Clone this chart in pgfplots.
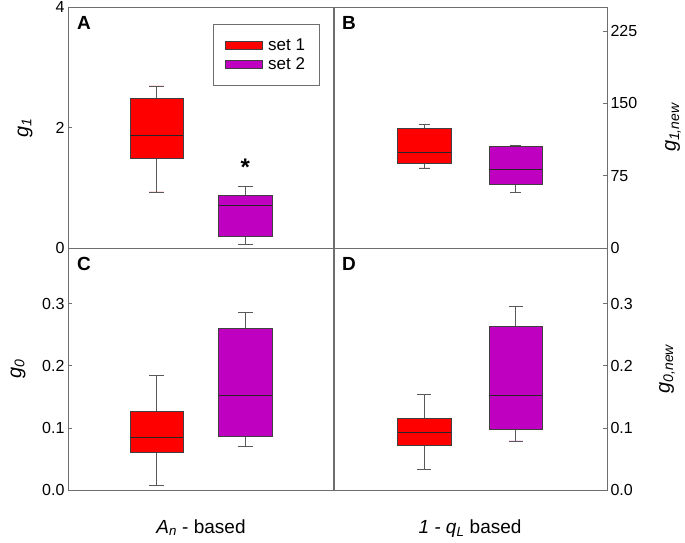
\documentclass[border=0pt]{standalone}
\usepackage{fontspec}
\setmainfont{Liberation Sans}
\usepackage{pgfplots}
\pgfplotsset{compat=1.18}
\usepgfplotslibrary{statistics}

\definecolor{setone}{RGB}{255,0,0}
\definecolor{settwo}{RGB}{192,0,192}
\definecolor{frame}{RGB}{110,110,110}

\tikzset{
  letter/.style={anchor=north west, inner sep=0pt, xshift=9pt, yshift=-9pt,
    font=\fontsize{19}{21}\selectfont\bfseries},
}

\pgfplotsset{
  panel/.style={
    scale only axis,
    xmin=0, xmax=3, ymin=0,
    xtick=\empty,
    axis line style={draw=frame, line width=0.9pt},
    tick style={draw=frame, line width=0.8pt},
    major tick length=4pt,
    tick align=inside,
    ticklabel style={font=\fontsize{16}{18}\selectfont},
    /pgf/number format/assume math mode=true,
    clip=false,
    boxplot/draw direction=y,
    /pgfplots/boxplot/every median/.style={draw=black!85, line width=1pt},
    /pgfplots/boxplot/every whisker/.style={draw=black!65, line width=0.8pt},
    /pgfplots/boxplot/every box/.style={draw=black!75, line width=0.8pt},
  },
  leftpanel/.style={ytick pos=left,
    ylabel style={at={(rel axis cs:0,0.5)}, anchor=center, font=\fontsize{20}{22}\selectfont}},
  rightpanel/.style={ytick pos=right, yticklabel pos=right,
    ylabel style={at={(rel axis cs:1,0.5)}, anchor=center, font=\fontsize{20}{22}\selectfont}},
  bottomlabel/.style={xlabel style={at={(rel axis cs:0.5,0)}, anchor=base, yshift=-43pt,
    font=\fontsize{19}{22}\selectfont}},
}

\begin{document}
\begin{tikzpicture}
\useasboundingbox (0,0) rectangle (685pt,542pt);

% A: g1, An-based
\begin{axis}[panel, leftpanel, at={(68pt,535pt)}, anchor=north west,
  width=266pt, height=241pt, ymax=4, ytick={0,2,4},
  ylabel={{\itshape g\textsubscript{1}}}, ylabel style={yshift=43pt},
  legend style={at={(rel axis cs:0.545,0.929)}, anchor=north west, draw=frame,
    line width=0.9pt, font=\fontsize{17}{19}\selectfont, inner xsep=12pt, inner ysep=12pt,
    row sep=2pt, cells={anchor=west}, /tikz/every odd column/.append style={column sep=3pt}},
  legend image code/.code={\draw[#1, line width=0.7pt] (0pt,-4pt) rectangle (37pt,4pt);}]
  \addlegendimage{fill=setone, draw=black!75}
  \addlegendentry{set 1}
  \addlegendimage{fill=settwo, draw=black!75}
  \addlegendentry{set 2}
  \addplot[fill=setone, forget plot, boxplot prepared={draw position=1,
    lower whisker=0.93, lower quartile=1.48, median=1.87, upper quartile=2.48,
    upper whisker=2.69, box extend=0.6, whisker extend=0.17}] coordinates {};
  \addplot[fill=settwo, forget plot, boxplot prepared={draw position=2,
    lower whisker=0.06, lower quartile=0.20, median=0.705, upper quartile=0.88,
    upper whisker=1.02, box extend=0.6, whisker extend=0.17}] coordinates {};
  \node[anchor=base, font=\fontsize{24}{26}\selectfont\bfseries] at (axis cs:2,1.2) {*};
  \node[letter] at (rel axis cs:0,1) {A};
\end{axis}

% B: g1,new, 1-qL based
\begin{axis}[panel, rightpanel, at={(333pt,535pt)}, anchor=north west,
  width=274pt, height=241pt, ymax=250, ytick={0,75,150,225},
  ylabel={{\itshape g\textsubscript{1,new}}}, ylabel style={yshift=-66pt}]
  \addplot[fill=setone, boxplot prepared={draw position=1,
    lower whisker=83, lower quartile=87.8, median=99, upper quartile=123.6,
    upper whisker=128, box extend=0.585, whisker extend=0.12}] coordinates {};
  \addplot[fill=settwo, boxplot prepared={draw position=2,
    lower whisker=57.6, lower quartile=65.6, median=81, upper quartile=104.9,
    upper whisker=106.6, box extend=0.585, whisker extend=0.12}] coordinates {};
  \node[letter] at (rel axis cs:0,1) {B};
\end{axis}

% C: g0, An-based
\begin{axis}[panel, leftpanel, bottomlabel, at={(68pt,294pt)}, anchor=north west,
  width=266pt, height=242pt, ymax=0.39, ytick={0,0.1,0.2,0.3},
  yticklabel style={/pgf/number format/.cd, fixed, fixed zerofill, precision=1},
  ylabel={{\itshape g\textsubscript{0}}}, ylabel style={yshift=50pt},
  xlabel={{\itshape A\textsubscript{n}} - based}]
  \addplot[fill=setone, boxplot prepared={draw position=1,
    lower whisker=0.0075, lower quartile=0.060, median=0.0845, upper quartile=0.126,
    upper whisker=0.185, box extend=0.6, whisker extend=0.17}] coordinates {};
  \addplot[fill=settwo, boxplot prepared={draw position=2,
    lower whisker=0.070, lower quartile=0.0856, median=0.152, upper quartile=0.26,
    upper whisker=0.286, box extend=0.6, whisker extend=0.17}] coordinates {};
  \node[letter] at (rel axis cs:0,1) {C};
\end{axis}

% D: g0,new, 1-qL based
\begin{axis}[panel, rightpanel, bottomlabel, at={(333pt,294pt)}, anchor=north west,
  width=274pt, height=242pt, ymax=0.39, ytick={0,0.1,0.2,0.3},
  yticklabel style={/pgf/number format/.cd, fixed, fixed zerofill, precision=1},
  ylabel={{\itshape g\textsubscript{0,new}}}, ylabel style={yshift=-60pt},
  xlabel={{\itshape 1 - q\textsubscript{L}} based}]
  \addplot[fill=setone, boxplot prepared={draw position=1,
    lower whisker=0.033, lower quartile=0.0724, median=0.092, upper quartile=0.1146,
    upper whisker=0.154, box extend=0.585, whisker extend=0.15}] coordinates {};
  \addplot[fill=settwo, boxplot prepared={draw position=2,
    lower whisker=0.079, lower quartile=0.098, median=0.152, upper quartile=0.264,
    upper whisker=0.296, box extend=0.585, whisker extend=0.15}] coordinates {};
  \node[letter] at (rel axis cs:0,1) {D};
\end{axis}
\end{tikzpicture}
\end{document}
